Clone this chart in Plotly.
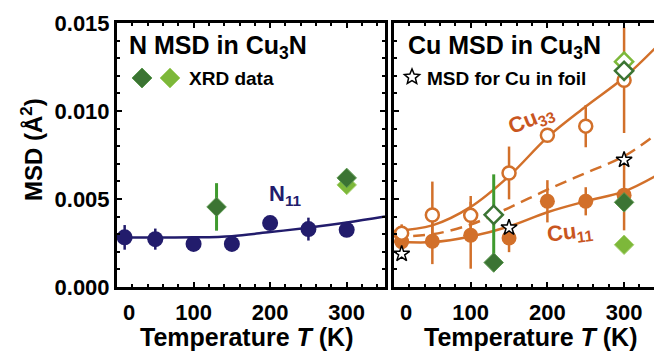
import math
import plotly.graph_objects as go

# ---------------- data ----------------
# N mean-square displacement in Cu3N (EXAFS)
T_N = [10, 50, 100, 150, 200, 250, 300]
msd_N11 = [0.00282, 0.00272, 0.00245, 0.00245, 0.00363, 0.00329, 0.00325]
err_N11 = [0.0007, 0.0006, 0.0, 0.0, 0.0, 0.00065, 0.0]

# N11 fit curve
T_fit_N = [0, 50, 100, 150, 200, 250, 300, 350]
fit_N11 = [0.00281, 0.00281, 0.00282, 0.00289, 0.00312, 0.00337, 0.00366, 0.00400]

# XRD data for N
T_xrd_N_dark = [130, 300]
xrd_N_dark = [0.00455, 0.0062]
err_xrd_N_dark = [0.00135, 0.0]
T_xrd_N_light = [300]
xrd_N_light = [0.0058]

# Cu mean-square displacement in Cu3N
T_Cu = [10, 50, 100, 150, 200, 250, 300]
msd_Cu33 = [0.00306, 0.00409, 0.00407, 0.00648, 0.00862, 0.00914, 0.01175]
err_Cu33 = [0.0005, 0.0019, 0.0011, 0.0015, 0.0, 0.0012, 0.0030]
msd_Cu11 = [0.00258, 0.00260, 0.00294, 0.00278, 0.00487, 0.00487, 0.00522]
err_Cu11 = [0.0004, 0.0013, 0.0019, 0.0008, 0.0012, 0.0008, 0.0020]

# Cu foil
T_foil = [10, 150, 300]
msd_foil = [0.00188, 0.00337, 0.00722]

# fit curves for Cu
T_fit_Cu = [0, 50, 100, 150, 200, 250, 300, 340]
fit_Cu33 = [0.00318, 0.00350, 0.00455, 0.00630, 0.00850, 0.01025, 0.01190, 0.01355]
fit_Cu11 = [0.00258, 0.00255, 0.00287, 0.00344, 0.00425, 0.00487, 0.00543, 0.00628]
fit_foil = [0.00287, 0.00300, 0.00355, 0.00450, 0.00553, 0.00648, 0.00743, 0.00862]

# XRD data for Cu
T_xrd_Cu_open_dark = [130, 300]
xrd_Cu_open_dark = [0.0041, 0.01228]
err_xrd_Cu_open_dark = [0.0023, 0.0]
T_xrd_Cu_open_light = [300]
xrd_Cu_open_light = [0.0128]
T_xrd_Cu_fill_dark = [130, 300]
xrd_Cu_fill_dark = [0.00139, 0.00481]
T_xrd_Cu_fill_light = [300]
xrd_Cu_fill_light = [0.0024]

x_ticks = [0, 100, 200, 300]
x_ticktext = ["\u2007\u20070", "100", "200", "300"]
y_ticks = [0.000, 0.005, 0.010, 0.015]
y_ticktext = ["0.000", "0.005", "0.010", "0.015"]

# ---------------- style ----------------
W, H = 654, 351
FONT = "Liberation Sans"
NAVY = "#221c6c"
ORANGE = "#d2702a"
ORANGE_TXT = "#c9561f"
DKGREEN = "#3b7433"
DKGREEN_EDGE = "#5d9a50"
LTGREEN = "#7db83a"
LTGREEN_EDGE = "#a6d16e"
BARGREEN = "#3f9a2e"


def px(x):
    return x / W


def py(y):
    return 1 - y / H


fig = go.Figure()

# ---- left panel: N ----
fig.add_trace(go.Scatter(x=T_fit_N, y=fit_N11, mode="lines", line=dict(color=NAVY, width=2.5, shape="spline"),
                         xaxis="x", yaxis="y", showlegend=False))
fig.add_trace(go.Scatter(x=T_N, y=msd_N11, mode="markers",
                         marker=dict(symbol="circle", size=16, color=NAVY),
                         error_y=dict(type="data", array=err_N11, color=NAVY, thickness=2.5, width=0),
                         xaxis="x", yaxis="y", showlegend=False))
fig.add_trace(go.Scatter(x=T_xrd_N_light, y=xrd_N_light, mode="markers",
                         marker=dict(symbol="diamond", size=15, color=LTGREEN, line=dict(color=LTGREEN_EDGE, width=1)),
                         xaxis="x", yaxis="y", showlegend=False))
fig.add_trace(go.Scatter(x=T_xrd_N_dark, y=xrd_N_dark, mode="markers",
                         marker=dict(symbol="diamond", size=15, color=DKGREEN, line=dict(color=DKGREEN_EDGE, width=1)),
                         error_y=dict(type="data", array=err_xrd_N_dark, color=BARGREEN, thickness=3, width=0),
                         xaxis="x", yaxis="y", showlegend=False))

# ---- right panel: Cu ----
fig.add_trace(go.Scatter(x=T_fit_Cu, y=fit_foil, mode="lines",
                         line=dict(color=ORANGE, width=2.5, shape="spline", dash="12px,7px"),
                         xaxis="x2", yaxis="y2", showlegend=False))
fig.add_trace(go.Scatter(x=T_fit_Cu, y=fit_Cu33, mode="lines", line=dict(color=ORANGE, width=2.5, shape="spline"),
                         xaxis="x2", yaxis="y2", showlegend=False))
fig.add_trace(go.Scatter(x=T_fit_Cu, y=fit_Cu11, mode="lines", line=dict(color=ORANGE, width=2.5, shape="spline"),
                         xaxis="x2", yaxis="y2", showlegend=False))
fig.add_trace(go.Scatter(x=T_Cu, y=msd_Cu11, mode="markers",
                         marker=dict(symbol="circle", size=15, color=ORANGE),
                         error_y=dict(type="data", array=err_Cu11, color=ORANGE, thickness=2.5, width=0),
                         xaxis="x2", yaxis="y2", showlegend=False))
fig.add_trace(go.Scatter(x=T_Cu, y=msd_Cu33, mode="markers",
                         marker=dict(symbol="circle", size=13, color="white", line=dict(color=ORANGE, width=2.5)),
                         error_y=dict(type="data", array=err_Cu33, color=ORANGE, thickness=2.5, width=0),
                         xaxis="x2", yaxis="y2", showlegend=False))
fig.add_trace(go.Scatter(x=T_foil, y=msd_foil, mode="markers",
                         marker=dict(symbol="star", size=12, color="white", line=dict(color="black", width=1.5)),
                         xaxis="x2", yaxis="y2", showlegend=False))
fig.add_trace(go.Scatter(x=T_xrd_Cu_open_light, y=xrd_Cu_open_light, mode="markers",
                         marker=dict(symbol="diamond", size=14, color="white", line=dict(color=LTGREEN, width=2.5)),
                         xaxis="x2", yaxis="y2", showlegend=False))
fig.add_trace(go.Scatter(x=T_xrd_Cu_open_dark, y=xrd_Cu_open_dark, mode="markers",
                         marker=dict(symbol="diamond", size=14, color="white", line=dict(color=DKGREEN, width=2.5)),
                         error_y=dict(type="data", array=err_xrd_Cu_open_dark, color=BARGREEN, thickness=3, width=0),
                         xaxis="x2", yaxis="y2", showlegend=False))
fig.add_trace(go.Scatter(x=T_xrd_Cu_fill_light, y=xrd_Cu_fill_light, mode="markers",
                         marker=dict(symbol="diamond", size=15, color=LTGREEN, line=dict(color=LTGREEN_EDGE, width=1)),
                         xaxis="x2", yaxis="y2", showlegend=False))
fig.add_trace(go.Scatter(x=T_xrd_Cu_fill_dark, y=xrd_Cu_fill_dark, mode="markers",
                         marker=dict(symbol="diamond", size=15, color=DKGREEN, line=dict(color=DKGREEN_EDGE, width=1)),
                         xaxis="x2", yaxis="y2", showlegend=False))

# ---------------- axes ----------------
tickfont = dict(family=FONT, size=22, color="black", weight="bold")
minor_x = dict(dtick=20, ticks="inside", ticklen=3, tickwidth=2, tickcolor="black")
minor_y = dict(dtick=0.001, ticks="inside", ticklen=3, tickwidth=2, tickcolor="black")


def x_axis(domain, rng, anchor):
    return dict(domain=domain, range=rng, anchor=anchor, showline=True, linewidth=3, linecolor="black",
                mirror="allticks", ticks="inside", ticklen=5, tickwidth=2, tickcolor="black",
                tickvals=x_ticks, ticktext=x_ticktext, tickfont=tickfont, minor=minor_x,
                showgrid=False, zeroline=False, automargin=False, ticklabelstandoff=4)


y_dom = [py(287), py(23)]
fig.update_layout(
    width=W, height=H, margin=dict(l=0, r=0, t=0, b=0, pad=0), autosize=False,
    paper_bgcolor="white", plot_bgcolor="white",
    xaxis=x_axis([px(117), px(385)], [0, 350], "y"),
    xaxis2=x_axis([px(394), 1.0], [0, 339], "y2"),
    yaxis=dict(domain=y_dom, range=[0, 0.015], anchor="x", showline=True, linewidth=3, linecolor="black",
               mirror="allticks", ticks="inside", ticklen=5, tickwidth=2, tickcolor="black",
               tickvals=y_ticks, ticktext=y_ticktext, tickfont=tickfont, minor=minor_y,
               showgrid=False, zeroline=False, automargin=False),
    yaxis2=dict(domain=y_dom, range=[0, 0.015], anchor="x2", showline=True, linewidth=3, linecolor="black",
                mirror=False, ticks="inside", ticklen=5, tickwidth=2, tickcolor="black",
                tickvals=y_ticks, showticklabels=False, minor=minor_y,
                showgrid=False, zeroline=False, automargin=False),
)

# ---------------- text ----------------
def label(text, x, y, size, color="black", xanchor="center", angle=0):
    fig.add_annotation(text=text, x=px(x), y=py(y), xref="paper", yref="paper", showarrow=False,
                       xanchor=xanchor, yanchor="middle", textangle=angle,
                       font=dict(family=FONT, size=size, color=color))


label("<b>MSD (Å<sup>2</sup>)</b>", 32, 150, 24, angle=-90)
label("<b>Temperature <i>T</i> (K)</b>", 247, 337, 25)
label("<b>Temperature <i>T</i> (K)</b>", 530, 337, 25)
label("<b>N MSD in Cu<sub>3</sub>N</b>", 127, 47, 25, xanchor="left")
label("<b>Cu MSD in Cu<sub>3</sub>N</b>", 406, 47, 25, xanchor="left")
label("<b>XRD data</b>", 187, 79, 19, xanchor="left")
label("<b>MSD for Cu in foil</b>", 425, 78, 19, xanchor="left")
label("<b>N<sub>11</sub></b>", 285, 195, 22, color=NAVY)
label("<b>Cu<sub>33</sub></b>", 531, 120, 22, color=ORANGE_TXT, angle=-22)
label("<b>Cu<sub>11</sub></b>", 570, 233, 22, color=ORANGE_TXT, angle=-7)


# legend swatches
def diamond_path(cx, cy, r):
    pts = [(cx, cy - r), (cx + r, cy), (cx, cy + r), (cx - r, cy)]
    return "M" + "L".join(f"{px(a):.5f},{py(b):.5f}" for a, b in pts) + "Z"


def star_path(cx, cy, ro, ri):
    pts = []
    for k in range(10):
        r = ro if k % 2 == 0 else ri
        ang = math.pi / 2 + k * math.pi / 5
        pts.append((cx + r * math.cos(ang), cy - r * math.sin(ang)))
    return "M" + "L".join(f"{px(a):.5f},{py(b):.5f}" for a, b in pts) + "Z"


fig.add_shape(type="path", path=diamond_path(142, 78, 10), xref="paper", yref="paper",
              fillcolor=DKGREEN, line=dict(color=DKGREEN_EDGE, width=1))
fig.add_shape(type="path", path=diamond_path(170, 78, 10), xref="paper", yref="paper",
              fillcolor=LTGREEN, line=dict(color=LTGREEN_EDGE, width=1))
fig.add_shape(type="path", path=star_path(412, 77, 8, 3.6), xref="paper", yref="paper",
              fillcolor="white", line=dict(color="black", width=1.5))

fig.write_html("out.html")
